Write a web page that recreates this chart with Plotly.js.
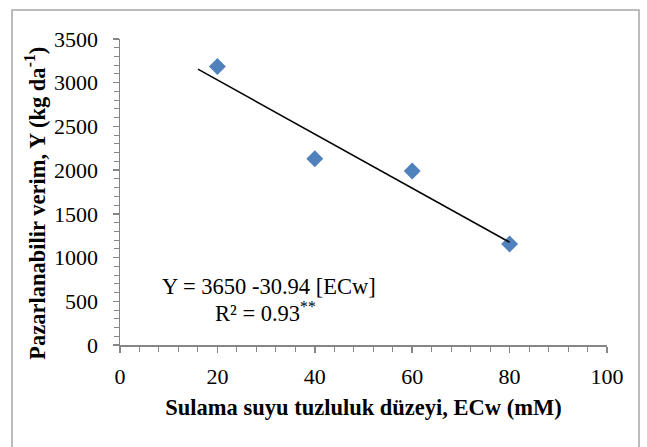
<!DOCTYPE html>
<html>
<head>
<meta charset="utf-8">
<script src="https://cdn.plot.ly/plotly-3.0.1.min.js"></script>
<style>html,body{margin:0;padding:0;background:#fff;}#chart{width:647px;height:447px;}</style>
</head>
<body>
<div id="chart"></div>
<script>
// Data
const salinity = [20, 40, 60, 80];            // ECw (mM)
const yieldValues = [3185, 2130, 1990, 1155];  // kg da-1
const trendX = [16, 80];
const trendY = [3155, 1175];
const xTicks = [0, 20, 40, 60, 80, 100];
const yTicks = [0, 500, 1000, 1500, 2000, 2500, 3000, 3500];
const equationText = 'Y = 3650 -30.94 [ECw]';
const r2Text = 'R² = 0.93<sup>**</sup>';
const xTitle = '<b>Sulama suyu tuzluluk düzeyi, ECw (mM)</b>';
const yTitle = '<b>Pazarlanabilir verim, Y (kg da<sup>-1</sup>)</b>';

const serif = 'Liberation Serif, Times New Roman, serif';

const traces = [
  {
    x: salinity, y: yieldValues, type: 'scatter', mode: 'markers',
    marker: {symbol: 'diamond', size: 13, color: '#4f81bd', line: {width: 0}},
    hoverinfo: 'skip', showlegend: false
  },
  {
    x: trendX, y: trendY, type: 'scatter', mode: 'lines',
    line: {color: '#000000', width: 1.5},
    hoverinfo: 'skip', showlegend: false
  }
];

const axisCommon = {
  showgrid: false, zeroline: false, showline: true, linecolor: '#868686', linewidth: 1.5,
  ticks: 'outside', ticklen: 6, tickwidth: 1.5, tickcolor: '#868686',
  tickfont: {family: serif, size: 22, color: '#000'}
};

const layout = {
  width: 647, height: 447,
  margin: {l: 120, r: 40, t: 39, b: 102},
  paper_bgcolor: '#ffffff', plot_bgcolor: '#ffffff',
  xaxis: Object.assign({}, axisCommon, {
    range: [0, 100], tickmode: 'array', tickvals: xTicks, ticktext: xTicks.map(String),
    ticklabelstandoff: 5,
    minor: {ticks: 'outside', ticklen: 5, tickwidth: 1, tickcolor: '#868686', dtick: 4, tick0: 0},
    title: {text: xTitle, font: {family: serif, size: 22.5, color: '#000'}, standoff: 11}
  }),
  yaxis: Object.assign({}, axisCommon, {
    range: [0, 3500], tickmode: 'array', tickvals: yTicks, ticktext: yTicks.map(String),
    ticklabelstandoff: 10,
    minor: {ticks: 'outside', ticklen: 5, tickwidth: 1, tickcolor: '#868686', dtick: 100, tick0: 0}
  }),
  annotations: [
    {x: -0.1745, y: 0.462, xref: 'paper', yref: 'paper', text: yTitle, showarrow: false,
     textangle: -90, xanchor: 'center', yanchor: 'middle',
     font: {family: serif, size: 22.5, color: '#000'}},
    {x: 30.5, y: 665, xref: 'x', yref: 'y', text: equationText, showarrow: false,
     font: {family: serif, size: 22.5, color: '#000'}},
    {x: 29.8, y: 380, xref: 'x', yref: 'y', text: r2Text, showarrow: false,
     font: {family: serif, size: 22.5, color: '#000'}}
  ],
  shapes: [
    {type: 'rect', xref: 'paper', yref: 'paper', x0: -0.2218, x1: 1.0657, y0: -0.4, y1: 1.0948,
     line: {color: '#a6a6a6', width: 1.5}, fillcolor: 'rgba(0,0,0,0)', layer: 'below'}
  ]
};

Plotly.newPlot('chart', traces, layout, {displayModeBar: false, staticPlot: true});
</script>
</body>
</html>
